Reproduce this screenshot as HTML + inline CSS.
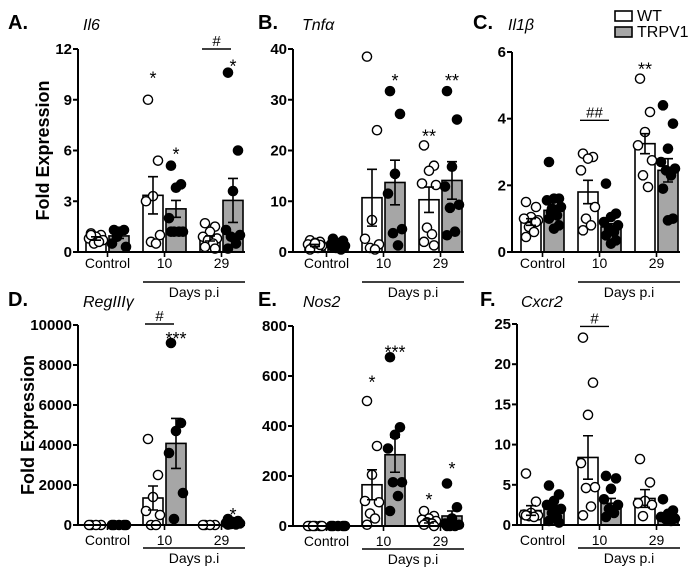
<!DOCTYPE html>
<html><head><meta charset="utf-8">
<style>
html,body{margin:0;padding:0;background:#fff;}
svg{display:block;font-family:"Liberation Sans",Arial,sans-serif;}
</style></head>
<body>
<svg id="fig" width="700" height="574" viewBox="0 0 700 574"></svg>
<script>
// ---- data arrays ----
const groups = ["Control","10","29"];
const legendLabels = ["WT","TRPV1"];
// panel A Il6
const aMeans = [0.8,0.95,3.35,2.55,0.8,3.05];
const aSems = [0.1,0.15,1.1,0.5,0.15,1.3];
const aPts = [[1.1,1.0,0.9,0.8,0.7,0.5,0.6,1.0],[1.3,1.3,1.2,0.5,0.3,0.9],[9.0,5.4,3.3,3.0,1.0,0.6,0.5],[5.1,4.0,3.8,2.0,1.2,1.2,1.2,1.2],[1.7,1.5,1.2,0.9,0.8,0.7,0.5,0.3,0.2],[10.6,6.0,3.6,1.3,1.0,0.9,0.5,0.2]];
const aTicks = [0,3,6,9,12];
const aAnn = [[2,10.5,"*"],[3,6.0,"*"],[5,11.2,"*"]];
const aHash = [[4,5,12.0,"#"]];
// panel B Tnfa
const bMeans = [1.3,1.2,10.7,13.7,10.3,14.1];
const bSems = [0.2,0.2,5.6,4.4,2.5,3.7];
const bPts = [[2.3,2,1.8,1.5,1.2,1,0.8,0.5,1.4,1.7],[2.6,2.2,1.8,1.5,1.2,0.8,0.5,1.0],[38.5,24,6.3,2.6,1.5,0.8,0.5],[31.7,27.2,15.4,11.5,4.5,3.7,1.3],[21,17,16,13.5,13.2,4.8,3.5,2,1.3],[31.7,26.1,16.8,12.9,9.3,8.7,4,3.3]];
const bTicks = [0,10,20,30,40];
const bAnn = [[3,34.5,"*"],[4,23.5,"**"],[5,34.5,"**"]];
const bHash = [];
// panel C Il1b
const cMeans = [0.9,1.25,1.8,0.75,3.25,2.45];
const cSems = [0.1,0.15,0.35,0.1,0.3,0.35];
const cPts = [[1.5,1.35,1.05,1.0,0.95,0.75,0.6,0.45,0.9],[2.7,1.6,1.6,1.55,1.35,1.3,1.1,1.0,0.8,0.7,1.2],[2.95,2.85,2.8,2.45,1.35,1.0,0.8,0.65],[2.05,1.15,1.05,0.9,0.8,0.7,0.6,0.5,0.35,0.25],[5.2,4.2,3.6,3.2,2.75,2.3,1.95],[4.4,3.85,3.1,2.7,2.5,2.45,2.3,1.9,1.0,0.95]];
const cTicks = [0,2,4,6];
const cAnn = [[4,5.6,"**"]];
const cHash = [[2,3,3.95,"##"]];
// panel D RegIIIg
const dMeans = [10,5,1350,4080,20,150];
const dSems = [0,0,600,1250,0,50];
const dPts = [[0,0,0,0],[0,0,0,0,0],[4300,2500,1400,700,500,0,0],[9100,5100,4700,3600,1600,300],[0,0,0,0],[300,200,150,100,80,50,30,20]];
const dTicks = [0,2000,4000,6000,8000,10000];
const dAnn = [[3,9500,"***"],[5,700,"*"]];
const dHash = [[2,3,10050,"#"]];
// panel E Nos2
const eMeans = [2,3,165,285,20,40];
const eSems = [0,0,60,70,8,20];
const ePts = [[0,0,0,0,0,0],[0,0,0,0,0],[500,320,205,100,95,50,30,5],[675,395,365,310,175,175,120,60],[60,40,30,25,20,15,10,5,0],[170,75,30,10,5,0,0,0]];
const eTicks = [0,200,400,600,800];
const eAnn = [[2,590,"*"],[3,710,"***"],[4,120,"*"],[5,245,"*"]];
const eHash = [];
// panel F Cxcr2
const fMeans = [1.8,2.0,8.4,2.7,3.3,1.1];
const fSems = [0.6,0.4,2.7,0.6,1.1,0.3];
const fPts = [[6.4,2.9,1.5,1.3,1.2,1.1,1.0,1.2],[4.9,3.8,3.0,2.5,2.0,1.5,1.0,0.5,0.3,1.8],[23.3,17.7,13.7,7.7,4.7,4.6,2.3,1.2],[6.1,5.8,4.5,3.2,2.5,2.0,1.5,1.0],[8.2,5.3,3.0,2.7,2.5,1.1],[3.2,1.8,1.4,1.0,0.8,0.7,0.5]];
const fTicks = [0,5,10,15,20,25];
const fAnn = [];
const fHash = [[2,3,24.7,"#"]];

const NS="http://www.w3.org/2000/svg";
const svg=document.getElementById('fig');
function mk(tag,attrs,parent,text){const e=document.createElementNS(NS,tag);for(const k in attrs)e.setAttribute(k,attrs[k]);if(text!==undefined)e.textContent=text;(parent||svg).appendChild(e);return e;}

function panel(cfg){
  const g=mk('g',{});
  
  
  const max=cfg.ticks[cfg.ticks.length-1];
  const y=v=>cfg.y0-(v/max)*(cfg.y0-cfg.ytop);
  const bx=i=>cfg.bar0+Math.floor(i/2)*57+(i%2)*23;
  const L=mk('text',{x:cfg.lx,y:cfg.ly,'font-size':20,'font-weight':'bold'},g,cfg.letter);
  
  
  const G=mk('text',{x:cfg.gx,y:cfg.ly+1,'font-size':16,'font-style':'italic'},g,cfg.gene);
  
  
  cfg.means.forEach((m,i)=>{
    const r=mk('rect',{x:bx(i),y:y(m),width:20,height:Math.max(0,cfg.y0-y(m)),fill:i%2?'#a6a6a6':'#fff',stroke:'#000','stroke-width':1.6},g);
    
    
  });
  const jit=[-5,5,0,-7,7,-2,3,-5,5,0,-3];
  cfg.pts.forEach((arr,i)=>{
    arr.forEach((v,k)=>{
      const c=mk('circle',{cx:bx(i)+10+jit[k%jit.length],cy:y(v),r:4.6,fill:i%2?'#000':'#fff',stroke:'#000','stroke-width':1.4},g);
      
      
    });
  });
  cfg.means.forEach((m,i)=>{
    const s=cfg.sems[i]; if(!s) return;
    const cx=bx(i)+10;
    const e=mk('path',{d:`M${cx} ${y(m-s)}V${y(m+s)}M${cx-5} ${y(m+s)}H${cx+5}M${cx-5} ${y(m-s)}H${cx+5}`,stroke:'#000','stroke-width':1.6,fill:'none'},g);
    
    
  });
  const xend=cfg.bar0+2*57+45;
  const ax=mk('path',{d:`M${cfg.ax} ${cfg.ytop}V${cfg.y0}H${xend}`,stroke:'#000','stroke-width':2,fill:'none'},g);
  
  
  cfg.ticks.forEach(t=>{
    mk('line',{x1:cfg.ax-5,x2:cfg.ax,y1:y(t),y2:y(t),stroke:'#000','stroke-width':2},g);
    const tl=mk('text',{x:cfg.ax-6,y:y(t)+5,'font-size':15,'font-weight':'bold','text-anchor':'end'},g,t);
    
    
  });
  groups.forEach((gn,k)=>{
    const cx=cfg.bar0+k*57+21.5;
    mk('line',{x1:cx,x2:cx,y1:cfg.y0,y2:cfg.y0+5,stroke:'#000','stroke-width':1.6},g);
    const tl=mk('text',{x:cx,y:cfg.y0+cfg.tlo,'font-size':14,'text-anchor':'middle'},g,gn);
    
    
  });
  const dl=cfg.y0+cfg.dlo;
  mk('line',{x1:cfg.bar0+57,x2:xend,y1:dl,y2:dl,stroke:'#000','stroke-width':1.4},g);
  const dt=mk('text',{x:(cfg.bar0+57+xend)/2,y:dl+15,'font-size':14,'text-anchor':'middle'},g,'Days p.i');
  
  
  cfg.ann.forEach(([i,v,t])=>{
    const a=mk('text',{x:bx(i)+10,y:y(v)+10,'font-size':18,'text-anchor':'middle'},g,t);
    
    
  });
  cfg.hash.forEach(([i,j,v,t])=>{
    const x1=bx(i)+2,x2=bx(j)+8;
    mk('line',{x1:x1,x2:x2,y1:y(v),y2:y(v),stroke:'#000','stroke-width':1.4},g);
    const a=mk('text',{x:(x1+x2)/2,y:y(v)-3,'font-size':15,'text-anchor':'middle'},g,t);
    
    
  });
  if(cfg.ylx){
    const yl=mk('text',{x:0,y:0,'font-size':18,'font-weight':'bold','text-anchor':'middle',transform:`translate(${cfg.ylx} ${(cfg.y0+cfg.ytop)/2}) rotate(-90)`},g,'Fold Expression');
    
    
  }
}

panel({name:'panel-a-il6',letter:'A.',gene:'Il6',lx:8,ly:29,gx:83,ax:78,bar0:86,y0:252,ytop:49,tlo:16,dlo:30,ticks:aTicks,means:aMeans,sems:aSems,pts:aPts,ann:aAnn,hash:aHash,ylx:49});
panel({name:'panel-b-tnfa',letter:'B.',gene:'Tnfα',lx:258,ly:29,gx:302,ax:293,bar0:305,y0:252,ytop:49,tlo:16,dlo:30,ticks:bTicks,means:bMeans,sems:bSems,pts:bPts,ann:bAnn,hash:bHash});
panel({name:'panel-c-il1b',letter:'C.',gene:'Il1β',lx:473,ly:29,gx:508,ax:512,bar0:521,y0:252,ytop:52,tlo:16,dlo:30,ticks:cTicks,means:cMeans,sems:cSems,pts:cPts,ann:cAnn,hash:cHash});
panel({name:'panel-d-reg3g',letter:'D.',gene:'RegIIIγ',lx:8,ly:306,gx:83,ax:78,bar0:86,y0:525,ytop:325,tlo:20,dlo:23,ticks:dTicks,means:dMeans,sems:dSems,pts:dPts,ann:dAnn,hash:dHash,ylx:34});
panel({name:'panel-e-nos2',letter:'E.',gene:'Nos2',lx:258,ly:306,gx:303,ax:293,bar0:305,y0:526,ytop:326,tlo:20,dlo:23,ticks:eTicks,means:eMeans,sems:eSems,pts:ePts,ann:eAnn,hash:eHash});
panel({name:'panel-f-cxcr2',letter:'F.',gene:'Cxcr2',lx:480,ly:306,gx:521,ax:517,bar0:521,y0:525,ytop:324,tlo:20,dlo:23,ticks:fTicks,means:fMeans,sems:fSems,pts:fPts,ann:fAnn,hash:fHash});

const lg=mk('g',{});


legendLabels.forEach((l,i)=>{
  const r=mk('rect',{x:615,y:11+i*16,width:17,height:10,fill:i?'#a6a6a6':'#fff',stroke:'#000','stroke-width':1.6},lg);
  
  
  const t=mk('text',{x:637,y:21+i*16,'font-size':16},lg,l);
  
  
});
</script>
</body></html>
